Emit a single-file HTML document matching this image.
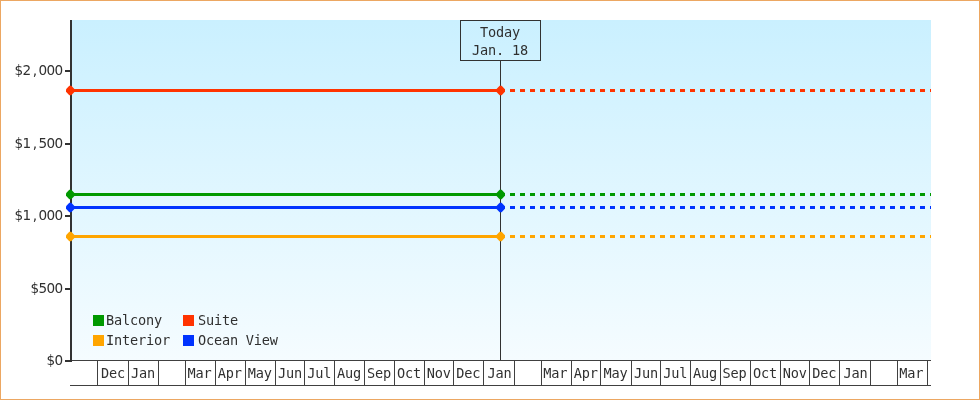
<!DOCTYPE html>
<html lang="en"><head><meta charset="utf-8"><title>Price history</title>
<style>
html,body{margin:0;padding:0;background:#fff;}
body{width:980px;height:400px;overflow:hidden;}
svg{display:block;}
text{font-family:"DejaVu Sans Mono","Liberation Mono",monospace;font-size:13.6px;letter-spacing:-0.188px;fill:#303030;}
.y text{font-family:"DejaVu Sans","Liberation Sans",sans-serif;font-size:13.6px;letter-spacing:0;}
.c{shape-rendering:crispEdges;}
</style></head><body>
<svg width="980" height="400" viewBox="0 0 980 400">
<defs><linearGradient id="g" x1="0" y1="0" x2="0" y2="1"><stop offset="0" stop-color="#CAF0FF"/><stop offset="1" stop-color="#F5FCFF"/></linearGradient></defs>
<rect x="0" y="0" width="980" height="400" fill="#fff"/>
<rect class="c" x="0.5" y="0.5" width="979" height="399" fill="none" stroke="#ECA762" stroke-width="1"/>
<rect class="c" x="72" y="20" width="859" height="340" fill="url(#g)"/>
<g class="c" fill="#404040">
<rect x="72" y="360" width="859" height="1"/>
<rect x="70" y="385" width="861" height="1"/>
<rect x="97" y="360" width="1" height="26"/>
<rect x="128" y="360" width="1" height="26"/>
<rect x="158" y="360" width="1" height="26"/>
<rect x="185" y="360" width="1" height="26"/>
<rect x="215" y="360" width="1" height="26"/>
<rect x="245" y="360" width="1" height="26"/>
<rect x="275" y="360" width="1" height="26"/>
<rect x="304" y="360" width="1" height="26"/>
<rect x="334" y="360" width="1" height="26"/>
<rect x="364" y="360" width="1" height="26"/>
<rect x="394" y="360" width="1" height="26"/>
<rect x="424" y="360" width="1" height="26"/>
<rect x="453" y="360" width="1" height="26"/>
<rect x="483" y="360" width="1" height="26"/>
<rect x="514" y="360" width="1" height="26"/>
<rect x="541" y="360" width="1" height="26"/>
<rect x="571" y="360" width="1" height="26"/>
<rect x="600" y="360" width="1" height="26"/>
<rect x="631" y="360" width="1" height="26"/>
<rect x="660" y="360" width="1" height="26"/>
<rect x="690" y="360" width="1" height="26"/>
<rect x="720" y="360" width="1" height="26"/>
<rect x="750" y="360" width="1" height="26"/>
<rect x="780" y="360" width="1" height="26"/>
<rect x="809" y="360" width="1" height="26"/>
<rect x="839" y="360" width="1" height="26"/>
<rect x="870" y="360" width="1" height="26"/>
<rect x="897" y="360" width="1" height="26"/>
<rect x="927" y="360" width="1" height="26"/>
</g>
<g text-anchor="middle">
<text x="113.1" y="378">Dec</text>
<text x="142.9" y="378">Jan</text>
<text x="199.5" y="378">Mar</text>
<text x="229.8" y="378">Apr</text>
<text x="259.7" y="378">May</text>
<text x="290.1" y="378">Jun</text>
<text x="319.2" y="378">Jul</text>
<text x="349.1" y="378">Aug</text>
<text x="378.9" y="378">Sep</text>
<text x="409.1" y="378">Oct</text>
<text x="438.8" y="378">Nov</text>
<text x="468.2" y="378">Dec</text>
<text x="499.4" y="378">Jan</text>
<text x="555.3" y="378">Mar</text>
<text x="585.8" y="378">Apr</text>
<text x="615.5" y="378">May</text>
<text x="646.1" y="378">Jun</text>
<text x="675.2" y="378">Jul</text>
<text x="705.1" y="378">Aug</text>
<text x="734.6" y="378">Sep</text>
<text x="765.0" y="378">Oct</text>
<text x="794.8" y="378">Nov</text>
<text x="824.2" y="378">Dec</text>
<text x="855.4" y="378">Jan</text>
<text x="911.3" y="378">Mar</text>
</g>
<g class="c" fill="#323232">
<rect x="70" y="20" width="2" height="342"/>
<rect x="65" y="70" width="5" height="2"/>
<rect x="65" y="143" width="5" height="2"/>
<rect x="65" y="215" width="5" height="2"/>
<rect x="65" y="288" width="5" height="2"/>
<rect x="65" y="360" width="5" height="2"/>
</g>
<g class="y" text-anchor="middle">
<text x="18.8 26.8 34.8 42.8 50.8 58.8" y="75">$2,000</text>
<text x="18.8 26.8 34.8 42.8 50.8 58.8" y="148">$1,500</text>
<text x="18.8 26.8 34.8 42.8 50.8 58.8" y="220">$1,000</text>
<text x="34.8 42.8 50.8 58.8" y="293">$500</text>
<text x="50.8 58.8" y="365">$0</text>
</g>
<rect class="c" x="500" y="60" width="1" height="300" fill="#323232"/>
<line x1="71" y1="90.5" x2="500" y2="90.5" stroke="#FF3300" stroke-width="3" class="c"/>
<line x1="500" y1="90.5" x2="931" y2="90.5" stroke="#FF3300" stroke-width="3" stroke-dasharray="5,5" class="c"/>
<polygon points="66.00,89.30 69.30,85.70 71.30,85.70 74.60,89.30 74.60,91.70 71.30,95.30 69.30,95.30 66.00,91.70" fill="#FF3300"/>
<polygon points="496.35,89.30 499.65,85.70 501.65,85.70 504.95,89.30 504.95,91.70 501.65,95.30 499.65,95.30 496.35,91.70" fill="#FF3300"/>
<line x1="71" y1="194.5" x2="500" y2="194.5" stroke="#009900" stroke-width="3" class="c"/>
<line x1="500" y1="194.5" x2="931" y2="194.5" stroke="#009900" stroke-width="3" stroke-dasharray="5,5" class="c"/>
<polygon points="66.00,193.30 69.30,189.70 71.30,189.70 74.60,193.30 74.60,195.70 71.30,199.30 69.30,199.30 66.00,195.70" fill="#009900"/>
<polygon points="496.35,193.30 499.65,189.70 501.65,189.70 504.95,193.30 504.95,195.70 501.65,199.30 499.65,199.30 496.35,195.70" fill="#009900"/>
<line x1="71" y1="207.5" x2="500" y2="207.5" stroke="#0033FF" stroke-width="3" class="c"/>
<line x1="500" y1="207.5" x2="931" y2="207.5" stroke="#0033FF" stroke-width="3" stroke-dasharray="5,5" class="c"/>
<polygon points="66.00,206.30 69.30,202.70 71.30,202.70 74.60,206.30 74.60,208.70 71.30,212.30 69.30,212.30 66.00,208.70" fill="#0033FF"/>
<polygon points="496.35,206.30 499.65,202.70 501.65,202.70 504.95,206.30 504.95,208.70 501.65,212.30 499.65,212.30 496.35,208.70" fill="#0033FF"/>
<line x1="71" y1="236.5" x2="500" y2="236.5" stroke="#FFA500" stroke-width="3" class="c"/>
<line x1="500" y1="236.5" x2="931" y2="236.5" stroke="#FFA500" stroke-width="3" stroke-dasharray="5,5" class="c"/>
<polygon points="66.00,235.30 69.30,231.70 71.30,231.70 74.60,235.30 74.60,237.70 71.30,241.30 69.30,241.30 66.00,237.70" fill="#FFA500"/>
<polygon points="496.35,235.30 499.65,231.70 501.65,231.70 504.95,235.30 504.95,237.70 501.65,241.30 499.65,241.30 496.35,237.70" fill="#FFA500"/>
<rect class="c" x="460.5" y="20.5" width="80" height="40" fill="none" stroke="#323232" stroke-width="1"/>
<text x="500" y="37" text-anchor="middle">Today</text>
<text x="500" y="55" text-anchor="middle">Jan. 18</text>
<rect class="c" x="93" y="315" width="11" height="11" fill="#009900"/>
<text x="106" y="325">Balcony</text>
<rect class="c" x="93" y="335" width="11" height="11" fill="#FFA500"/>
<text x="106" y="345">Interior</text>
<rect class="c" x="183" y="315" width="11" height="11" fill="#FF3300"/>
<text x="197.9" y="325">Suite</text>
<rect class="c" x="183" y="335" width="11" height="11" fill="#0033FF"/>
<text x="197.9" y="345">Ocean View</text>
</svg>
</body></html>
